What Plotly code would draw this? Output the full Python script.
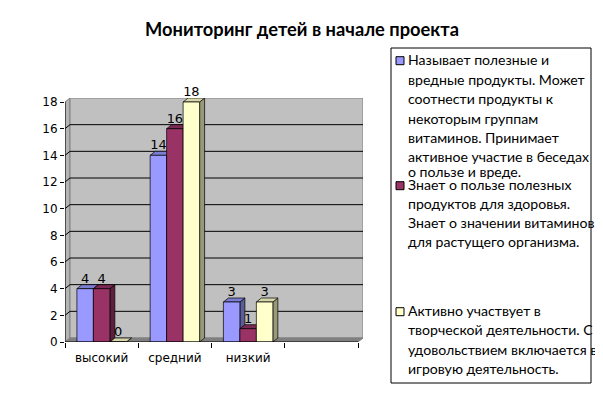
import plotly.graph_objects as go

# ---------------- data ----------------
categories = ["высокий", "средний", "низкий"]
series_names = [
    "Называет полезные и вредные продукты. Может соотнести продукты к некоторым группам витаминов. Принимает активное участие в беседах о пользе и вреде.",
    "Знает о пользе полезных продуктов для здоровья. Знает о значении витаминов для растущего организма.",
    "Активно участвует в творческой деятельности. С удовольствием включается в игровую деятельность.",
]
legend_lines = [
    ["Называет полезные и", "вредные продукты. Может", "соотнести продукты к",
     "некоторым группам", "витаминов. Принимает", "активное участие в беседах",
     "о пользе и вреде."],
    ["Знает о пользе полезных", "продуктов для здоровья.", "Знает о значении витаминов",
     "для растущего организма."],
    ["Активно участвует в", "творческой деятельности. С", "удовольствием включается в",
     "игровую деятельность."],
]
series_values = [
    [4, 14, 3],
    [4, 16, 1],
    [0, 18, 3],
]
y_ticks = [0, 2, 4, 6, 8, 10, 12, 14, 16, 18]
title_text = "Мониторинг детей в начале проекта"

# ---------------- styles / layout ----------------
front_colors = ["#9999ff", "#993366", "#ffffcc"]
top_colors = ["#7c7cd0", "#7a2952", "#d6d6aa"]
side_colors = ["#5c5c99", "#5c1f3d", "#99997a"]

OFF = 8  # page body margin
W, H = 595, 388
L = 65 - OFF
T = 98 - OFF
R = W - (363 - OFF)
B = H - (342 - OFF)
PW, PH = W - L - R, H - T - B
X0 = -0.5
X1 = X0 + 4.0 / (1 - 5.0 / PW)
Y0, Y1 = 0, 18.3
DX = 5 * (X1 - X0) / PW
DY = 4 * (Y1 - Y0) / PH
BW = 0.225


def px_x(px):
    return (px - OFF - L) / PW


def px_y(py):
    return (H - B - (py - OFF)) / PH


fig = go.Figure()

for s, vals in enumerate(series_values):
    fig.add_trace(go.Bar(
        x=list(range(len(categories))), y=vals, name=series_names[s],
        width=BW, offset=-1.5 * BW + s * BW,
        marker=dict(color=front_colors[s], line=dict(color="black", width=0.7)),
        text=[str(v) for v in vals], textposition="outside",
        textfont=dict(family="DejaVu Sans", size=13, color="black"),
        cliponaxis=False, showlegend=False,
    ))

shapes = []
# side wall, back wall, floor
shapes.append(dict(type="path", xref="x", yref="y", layer="below",
                   path=f"M{X0},{0} L{X0+DX},{DY} L{X0+DX},{Y1} L{X0},{y_ticks[-1]} Z",
                   fillcolor="#b4b4b4", line=dict(color="#808080", width=1)))
shapes.append(dict(type="rect", xref="x", yref="y", layer="below",
                   x0=X0 + DX, x1=X1, y0=DY, y1=Y1,
                   fillcolor="#c0c0c0", line=dict(color="#808080", width=1)))
shapes.append(dict(type="path", xref="x", yref="y", layer="below",
                   path=f"M{X0},{0} L{X1-DX},{0} L{X1},{DY} L{X0+DX},{DY} Z",
                   fillcolor="#808080", line=dict(color="#808080", width=1)))
# gridlines on the wall
for v in y_ticks[1:-1]:
    shapes.append(dict(type="line", xref="x", yref="y", layer="below",
                       x0=X0 + DX, x1=X1, y0=v + DY, y1=v + DY,
                       line=dict(color="black", width=1)))
    shapes.append(dict(type="line", xref="x", yref="y", layer="below",
                       x0=X0, x1=X0 + DX, y0=v, y1=v + DY,
                       line=dict(color="black", width=1)))
# 3D faces of bars
for s, vals in enumerate(series_values):
    for i, v in enumerate(vals):
        left = i - 1.5 * BW + s * BW
        right = left + BW
        shapes.append(dict(type="path", xref="x", yref="y", layer="below",
                           path=f"M{right},{0} L{right+DX},{DY} L{right+DX},{v+DY} L{right},{v} Z",
                           fillcolor=side_colors[s], line=dict(color="black", width=0.7)))
        shapes.append(dict(type="path", xref="x", yref="y", layer="below",
                           path=f"M{left},{v} L{right},{v} L{right+DX},{v+DY} L{left+DX},{v+DY} Z",
                           fillcolor=top_colors[s], line=dict(color="black", width=0.7)))
# axis lines
shapes.append(dict(type="line", xref="x", yref="y", x0=X0, x1=X0, y0=0, y1=y_ticks[-1],
                   line=dict(color="black", width=1)))
shapes.append(dict(type="line", xref="x", yref="y", x0=X0, x1=X1 - DX, y0=0, y1=0,
                   line=dict(color="black", width=1)))

# legend box
shapes.append(dict(type="rect", xref="paper", yref="paper",
                   x0=px_x(391), x1=px_x(591), y0=px_y(383), y1=px_y(48),
                   line=dict(color="black", width=1), fillcolor="white", layer="below"))

annotations = []
legend_line_y = [
    [60.7, 80, 99.3, 119, 138.3, 157.7, 172.7],
    [185.7, 204.3, 223.3, 242.3],
    [311.7, 330.7, 350, 369],
]
for s, lines in enumerate(legend_lines):
    yc = legend_line_y[s][0]
    shapes.append(dict(type="rect", xref="paper", yref="paper",
                       x0=px_x(396), x1=px_x(404), y0=px_y(yc + 4), y1=px_y(yc - 4),
                       fillcolor=front_colors[s], line=dict(color="black", width=1)))
    for k, ln in enumerate(lines):
        annotations.append(dict(xref="paper", yref="paper", x=px_x(406),
                                y=px_y(legend_line_y[s][k] - 1), xanchor="left", yanchor="middle",
                                text=ln, showarrow=False,
                                font=dict(family="Lato", size=14.1, color="black")))

fig.update_layout(
    width=W, height=H,
    margin=dict(l=L, r=R, t=T, b=B, pad=0),
    paper_bgcolor="white", plot_bgcolor="white",
    barmode="overlay",
    title=dict(text=title_text, x=(302 - OFF) / W, xanchor="center", xref="container",
               y=1 - (30 - OFF) / H, yanchor="middle", yref="container",
               font=dict(family="Lato", size=18.3, color="black", weight="bold")),
    xaxis=dict(range=[X0, X1], tickvals=list(range(len(categories))), ticktext=categories,
               ticks="outside", ticklen=5, tickcolor="rgba(0,0,0,0)",
               minor=dict(tickvals=[-0.5, 0.5, 1.5, 2.5, 3.5], ticks="outside", ticklen=5,
                          tickcolor="black", showgrid=False),
               showgrid=False, zeroline=False, showline=False,
               tickfont=dict(family="DejaVu Sans", size=12, color="black"),
               fixedrange=True),
    yaxis=dict(range=[Y0, Y1], tickvals=y_ticks, ticks="outside", ticklen=4,
               tickcolor="black", showgrid=False, zeroline=False, showline=False,
               tickfont=dict(family="DejaVu Sans", size=12, color="black"),
               fixedrange=True),
    shapes=shapes, annotations=annotations,
)

fig.write_html("out.html")
